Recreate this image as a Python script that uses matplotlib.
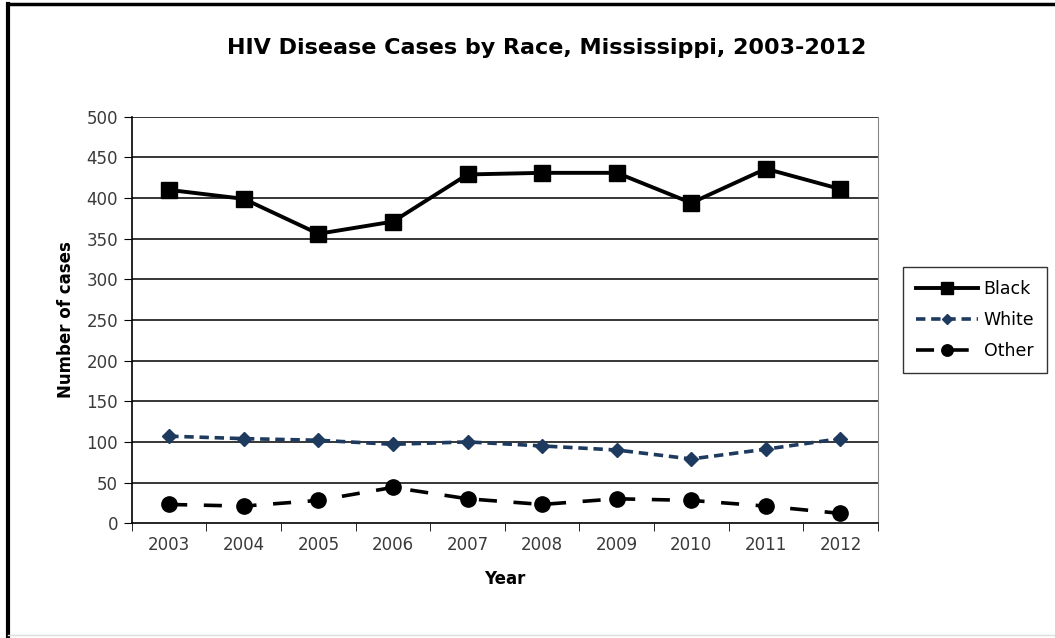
import numpy as np
import matplotlib.pyplot as plt
from matplotlib.lines import Line2D

plt.rcParams['font.family'] = ['DejaVu Sans']

# Data
years = ['2003', '2004', '2005', '2006', '2007', '2008', '2009', '2010', '2011', '2012']
black = [410, 399, 356, 371, 429, 431, 431, 394, 436, 411]
white = [107, 104, 102, 97, 100, 95, 90, 79, 91, 104]
other = [23, 21, 28, 44, 30, 23, 30, 28, 21, 12]

x = np.arange(len(years))

fig = plt.figure(figsize=(10.55, 6.38), dpi=100)
ax = fig.add_axes([0.125, 0.180, 0.707, 0.637])

# Gridlines
for v in range(50, 501, 50):
    ax.axhline(v, color='black', linewidth=1.1, zorder=1)

ax.plot(x, black, color='black', linewidth=2.8, marker='s', markersize=12,
        label='Black', zorder=3)
ax.plot(x, white, color='#1f3a5f', linewidth=2.6, linestyle=(0, (2.6, 1.6)),
        marker='D', markersize=7, markerfacecolor='#1f3a5f', markeredgecolor='#1f3a5f',
        label='White', zorder=3)
ax.plot(x, other, color='black', linewidth=2.6, linestyle=(0, (5.0, 4.6)),
        marker='o', markersize=11, label='Other', zorder=3)

ax.set_xlim(-0.5, len(years) - 0.5)
ax.set_ylim(0, 500)
ax.set_yticks(range(0, 501, 50))
ax.set_xticks(x)
ax.set_xticklabels(years)
ax.set_xticks(np.arange(-0.5, len(years), 1.0), minor=True)
ax.tick_params(axis='x', which='major', length=0, labelsize=12, colors='#3a3a3a', pad=9)
ax.tick_params(axis='x', which='minor', length=6, direction='out', color='black')
ax.tick_params(axis='y', length=6, direction='out', labelsize=12, colors='#3a3a3a', pad=4)
ax.tick_params(axis='y', color='black')

ax.spines['left'].set_linewidth(1.2)
ax.spines['bottom'].set_linewidth(1.2)
ax.spines['top'].set_visible(False)
ax.spines['right'].set_color('#888888')
ax.spines['right'].set_linewidth(0.8)

ax.set_xlabel('Year', fontsize=12, fontweight='bold', labelpad=12)
ax.set_ylabel('Number of cases', fontsize=12, fontweight='bold', labelpad=8)

fig.text(0.518, 0.925, 'HIV Disease Cases by Race, Mississippi, 2003-2012',
         ha='center', va='center', fontsize=16, fontweight='bold')

leg = ax.legend(loc='center left', bbox_to_anchor=(1.022, 0.5), frameon=True,
                fancybox=False, edgecolor='black', fontsize=12.5, handlelength=3.6,
                labelspacing=0.75, borderpad=0.75, handletextpad=0.3, markerscale=0.75)
leg.get_frame().set_linewidth(1.0)

# Outer frame of the picture
fig.add_artist(Line2D([0.008, 0.008], [0.0, 0.993], transform=fig.transFigure,
                      color='black', linewidth=3))
fig.add_artist(Line2D([0.008, 1.0], [0.993, 0.993], transform=fig.transFigure,
                      color='black', linewidth=2.5))
fig.add_artist(Line2D([0.008, 1.0], [0.004, 0.004], transform=fig.transFigure,
                      color='#dddddd', linewidth=1))

fig.savefig('out.png', dpi=100)
